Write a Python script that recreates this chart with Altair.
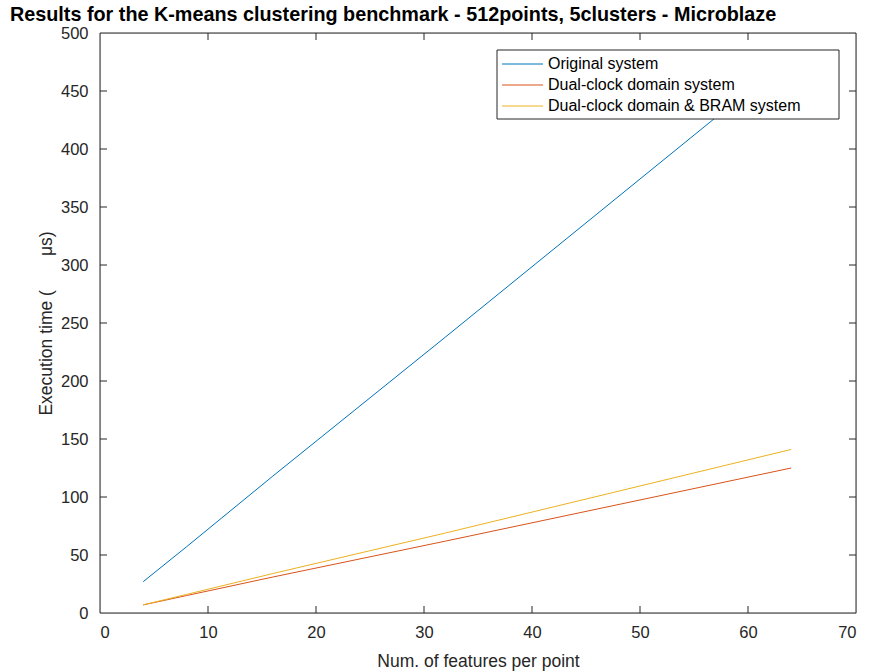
import altair as alt
import pandas as pd

features = [4, 8, 16, 32, 64]
original = [27, 57, 118, 238, 480]
dual_clock = [7, 15, 31, 62, 125]
dual_bram = [7, 16, 34, 69, 141]
series_names = ["Original system", "Dual-clock domain system", "Dual-clock domain & BRAM system"]
series_colors = ["#0072BD", "#D95319", "#EDB120"]
x_tick_values = [0, 10, 20, 30, 40, 50, 60, 70]
y_tick_values = [0, 50, 100, 150, 200, 250, 300, 350, 400, 450, 500]
inner_x_ticks = [10, 20, 30, 40, 50, 60]
inner_y_ticks = [50, 100, 150, 200, 250, 300, 350, 400, 450]

FONT = "Liberation Sans"
INK = "#262626"
NB = "\u00a0"

rows = []
for name, vals in zip(series_names, [original, dual_clock, dual_bram]):
    for f, v in zip(features, vals):
        rows.append({"features": f, "time": v, "series": name})
df = pd.DataFrame(rows)

xscale = alt.Scale(domain=[0, 70], nice=False, zero=False)
yscale = alt.Scale(domain=[0, 500], nice=False, zero=False)
color = alt.Color("series:N", scale=alt.Scale(domain=series_names, range=series_colors), legend=None)

axis_common = dict(tickSize=0, domain=False, grid=False, labelFont=FONT, titleFont=FONT,
                   labelFontSize=16.5, titleFontSize=17.5, labelColor=INK, titleColor=INK,
                   titleFontWeight="normal")
x_axis = alt.Axis(values=x_tick_values, title="Num. of features per point",
                  labelPadding=11, titlePadding=12, **axis_common)
y_axis = alt.Axis(values=y_tick_values, title="Execution time (" + NB * 7 + "μs)",
                  labelPadding=12, titlePadding=5, **axis_common)

lines = alt.Chart(df).mark_line(strokeWidth=1).encode(
    x=alt.X("features:Q", scale=xscale, axis=x_axis),
    y=alt.Y("time:Q", scale=yscale, axis=y_axis),
    color=color,
    order="features:Q",
)

xt = pd.DataFrame({"t": inner_x_ticks})
yt = pd.DataFrame({"t": inner_y_ticks})
tick_style = dict(color=INK, strokeWidth=1)
xb = alt.Chart(xt).mark_rule(**tick_style).encode(
    x=alt.X("t:Q", scale=xscale, axis=x_axis), y=alt.value(580), y2=alt.value(573))
xtop = alt.Chart(xt).mark_rule(**tick_style).encode(
    x=alt.X("t:Q", scale=xscale, axis=x_axis), y=alt.value(0), y2=alt.value(7))
yl = alt.Chart(yt).mark_rule(**tick_style).encode(
    y=alt.Y("t:Q", scale=yscale, axis=y_axis), x=alt.value(0), x2=alt.value(7))
yr = alt.Chart(yt).mark_rule(**tick_style).encode(
    y=alt.Y("t:Q", scale=yscale, axis=y_axis), x=alt.value(756), x2=alt.value(749))

frame = alt.Chart(pd.DataFrame({"a": [0]})).mark_rect(fill=None, stroke=INK, strokeWidth=1).encode(
    x=alt.value(0), x2=alt.value(756), y=alt.value(0), y2=alt.value(580))

main = alt.layer(lines, xb, xtop, yl, yr)

box = alt.Chart(pd.DataFrame({"a": [0]})).mark_rect(fill="white", stroke=INK, strokeWidth=1).encode(
    x=alt.value(397), x2=alt.value(739), y=alt.value(17), y2=alt.value(86))
leg_df = pd.DataFrame({"series": series_names})
leg_y = alt.Y("series:N", scale=alt.Scale(type="point", domain=series_names, range=[31, 73], padding=0), axis=None)
leg_lines = alt.Chart(leg_df).mark_rule(strokeWidth=1).encode(
    x=alt.value(402), x2=alt.value(443), y=leg_y, color=color)
leg_text = alt.Chart(leg_df).mark_text(align="left", baseline="middle", font=FONT, fontSize=16, color="black").encode(
    x=alt.value(448), y=leg_y, text="series:N")
legend = alt.layer(frame, box, leg_lines, leg_text)

chart = alt.layer(main, legend).resolve_scale(y="independent").properties(
    width=756, height=580,
    autosize=alt.AutoSizeParams(type="none"),
    padding={"left": 100, "top": 33, "right": 13, "bottom": 59},
    title=alt.TitleParams(
        text="Results for the K-means clustering benchmark - 512points, 5clusters - Microblaze",
        anchor="start", frame="group", dx=-90, dy=5, offset=5,
        fontSize=19.8, font=FONT, fontWeight="bold", color="black"),
).configure_view(stroke=None).configure(background="white")

chart.save("out.html", embed_options={"renderer": "svg", "actions": False})
